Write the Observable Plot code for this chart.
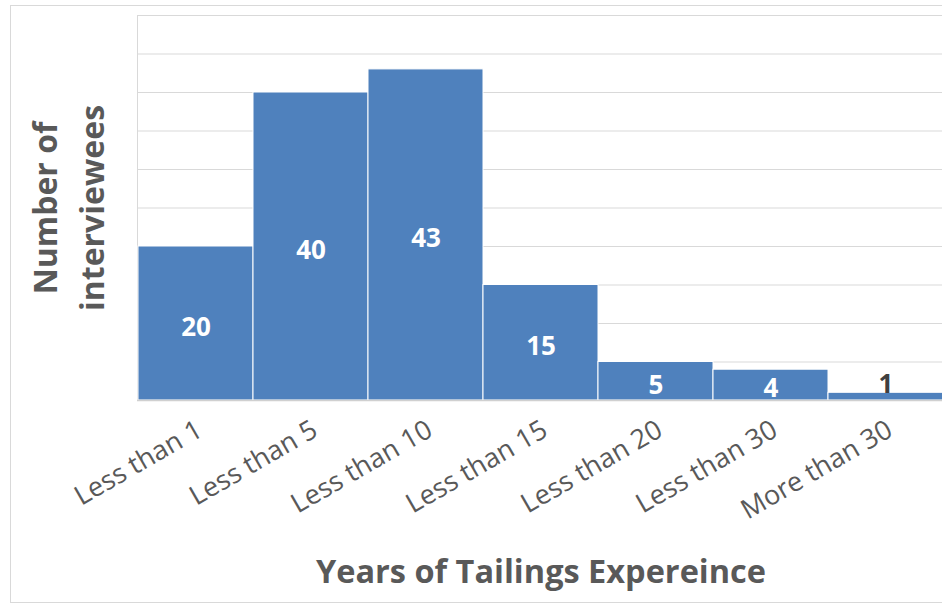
<!DOCTYPE html>
<html>
<head>
<meta charset="utf-8">
<script src="https://cdn.jsdelivr.net/npm/d3@7"></script>
<script src="https://cdn.jsdelivr.net/npm/@observablehq/plot@0.6"></script>
<style>
  html, body { margin: 0; padding: 0; background: #fff; }
  #chart { position: relative; width: 942px; height: 605px; overflow: hidden; }
  #chart svg { position: absolute; left: 0; top: 0; }
  #border { position: absolute; left: 10px; top: 5px; width: 940px; height: 596px;
            border: 1px solid #d9d9d9; pointer-events: none; }
</style>
</head>
<body>
<div id="chart"><div id="border"></div></div>
<script>
// Interviewees grouped by years of tailings experience
const categories = ["Less than 1", "Less than 5", "Less than 10", "Less than 15", "Less than 20", "Less than 30", "More than 30"];
const counts = [20, 40, 43, 15, 5, 4, 1];
const gridValues = [5, 10, 15, 20, 25, 30, 35, 40, 45, 50];

const xTitle = "Years of Tailings Expereince";
const yTitle = "Number of\ninterviewees";

const data = categories.map((c, i) => ({category: c, count: counts[i]}));
// small bars get their label above the bar, in dark text
const inside = data.filter(d => d.count >= 3);
const outside = data.filter(d => d.count < 3);

const fontFamily = "'Open Sans', 'Segoe UI', sans-serif";
const textColor = "#595959";

const chart = Plot.plot({
  width: 942,
  height: 605,
  marginLeft: 137,
  marginRight: -2,
  marginTop: 15,
  marginBottom: 205,
  style: {fontFamily, background: "transparent", color: textColor},
  x: {domain: categories, padding: 0, label: null, axis: null},
  y: {domain: [0, 50], label: null, axis: null},
  marks: [
    Plot.gridY(gridValues, {stroke: "#d9d9d9", strokeOpacity: 1, strokeWidth: 1}),
    Plot.frame({anchor: "left", stroke: "#d9d9d9"}),
    Plot.barY(data, {x: "category", y: "count", fill: "#4f81bd", stroke: "#ffffff", strokeWidth: 1}),
    Plot.ruleY([0], {stroke: "#d0d0d0", strokeWidth: 1.5}),
    Plot.text(inside, {
      x: "category", y: d => d.count / 2, text: d => String(d.count),
      fill: "#ffffff", fontSize: 26, fontWeight: "bold", dy: 4
    }),
    Plot.text(outside, {
      x: "category", y: "count", text: d => String(d.count),
      fill: "#404040", fontSize: 26, fontWeight: "bold", dy: -8
    }),
    Plot.axisX({
      tickSize: 0, tickRotate: -30, fontSize: 27, fill: textColor,
      tickPadding: 27, label: null, dx: 4
    }),
    Plot.text([xTitle], {
      frameAnchor: "bottom", dy: 182, fontSize: 32.5, fontWeight: "bold", fill: textColor
    }),
    Plot.text([yTitle], {
      frameAnchor: "left", dx: -72, rotate: -90, fontSize: 32, fontWeight: "bold",
      fill: textColor, lineHeight: 1.45, lineAnchor: "middle", textAnchor: "middle"
    })
  ]
});

document.getElementById("chart").insertBefore(chart, document.getElementById("border"));
</script>
</body>
</html>
